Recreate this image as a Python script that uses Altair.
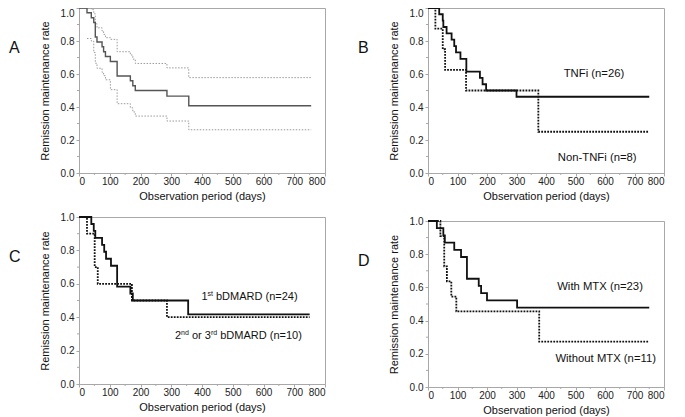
import altair as alt
import pandas as pd

# ---------------- data ----------------
# Panel A: overall Kaplan-Meier curve with 95% CI
A_main_t = [0, 26, 40, 48, 53, 58.5, 75, 80, 86, 102, 124, 167, 175, 183, 286, 357, 755]
A_main_s = [1, 0.971, 0.941, 0.912, 0.824, 0.794, 0.765, 0.735, 0.706, 0.676, 0.588, 0.559, 0.529, 0.5, 0.466, 0.408, 0.408]
A_up_t = [0, 26, 40, 48, 53, 58.5, 75, 80, 86, 102, 124, 167, 175, 183, 286, 357, 755]
A_up_s = [1, 1, 0.99, 0.965, 0.905, 0.88, 0.86, 0.84, 0.82, 0.81, 0.735, 0.715, 0.69, 0.664, 0.637, 0.578, 0.578]
A_lo_t = [26, 40, 48, 53, 58.5, 75, 80, 86, 102, 124, 167, 175, 183, 286, 357, 755]
A_lo_s = [0.815, 0.80, 0.73, 0.665, 0.635, 0.61, 0.59, 0.565, 0.505, 0.42, 0.395, 0.37, 0.345, 0.315, 0.262, 0.262]

# Panel B: TNFi vs non-TNFi
B_tnf_t = [0, 38, 50, 52, 63, 80, 89, 95, 110, 130, 176, 185, 197, 300, 750]
B_tnf_s = [1, 0.962, 0.923, 0.885, 0.846, 0.808, 0.769, 0.731, 0.692, 0.615, 0.577, 0.538, 0.5, 0.462, 0.462]
B_non_t = [0, 25, 50, 58, 129, 374, 750]
B_non_s = [1, 0.875, 0.75, 0.625, 0.5, 0.25, 0.25]

# Panel C: 1st vs 2nd/3rd bDMARD
C_1st_t = [0, 40, 48, 53, 75, 82, 88, 104, 124, 167, 175, 355, 750]
C_1st_s = [1, 0.958, 0.917, 0.875, 0.833, 0.792, 0.75, 0.708, 0.583, 0.542, 0.5, 0.417, 0.417]
C_2nd_t = [0, 26, 51, 61, 172, 286, 750]
C_2nd_s = [1, 0.9, 0.7, 0.6, 0.5, 0.4, 0.4]

# Panel D: with vs without MTX
D_mtx_t = [0, 30, 52, 57, 89, 112, 132, 172, 180, 200, 302, 750]
D_mtx_s = [1, 0.957, 0.913, 0.870, 0.826, 0.783, 0.652, 0.609, 0.565, 0.522, 0.478, 0.478]
D_nom_t = [0, 42, 55, 64, 79, 96, 377, 750]
D_nom_s = [1, 0.909, 0.727, 0.636, 0.545, 0.455, 0.273, 0.273]

# annotation labels
B_lab_text = ["TNFi (n=26)", "Non-TNFi (n=8)"]
B_lab_t = [460, 440]
B_lab_s = [0.6, 0.093]
D_lab_text = ["With MTX (n=23)", "Without MTX (n=11)"]
D_lab_t = [438, 432]
D_lab_s = [0.6, 0.167]
# panel C labels with superscripts: (text, size, dx, dy)
C_lab1_pieces = [("1", 11, 0, 0), ("st", 7, 6.1, -3), ("bDMARD (n=24)", 11, 14.6, 0)]
C_lab1_pos = (398, 0.52)
C_lab2_pieces = [("2", 11, 0, 0), ("nd", 7, 6.1, -3), ("or 3", 11, 17.0, 0),
                 ("rd", 7, 36.0, -3), ("bDMARD (n=10)", 11, 45.3, 0)]
C_lab2_pos = (312, 0.29)

x_ticks = list(range(0, 801, 100))
x_minor = list(range(50, 800, 100))
y_ticks = [0, 0.2, 0.4, 0.6, 0.8, 1.0]
y_minor = [0.1, 0.3, 0.5, 0.7, 0.9]

FONT = "Liberation Sans"
GREY = "#a8a8a8"


def panel(letter, series, width, height, top_row, labels=None, pieces=None):
    yaxis_kw = dict(values=y_ticks, format=".1f", title="Remission maintenance rate",
                    tickSize=3, labelPadding=2, titlePadding=10)
    if top_row:
        yaxis_kw["labelBaseline"] = {"condition": {"test": "datum.value >= 0.99", "value": "top"},
                                     "value": "middle"}
    X = alt.X("t:Q", scale=alt.Scale(domain=[0, 800], nice=False),
              axis=alt.Axis(values=x_ticks, format="d", title="Observation period (days)",
                            tickSize=3, labelPadding=0, titlePadding=4))
    Y = alt.Y("s:Q", scale=alt.Scale(domain=[0, 1], nice=False), axis=alt.Axis(**yaxis_kw))
    layers = []
    for t, s, color, sw, dash in series:
        df = pd.DataFrame({"t": t, "s": s})
        kw = dict(interpolate="step-after", color=color, strokeWidth=sw)
        if dash:
            kw["strokeDash"] = dash
        layers.append(alt.Chart(df).mark_line(**kw).encode(x=X, y=Y))
    # minor ticks
    layers.append(alt.Chart(pd.DataFrame({"t": x_minor})).mark_rule(color=GREY).encode(
        x=X, y=alt.value(height), y2=alt.value(height + 2)))
    layers.append(alt.Chart(pd.DataFrame({"s": y_minor})).mark_rule(color=GREY).encode(
        y=Y, x=alt.value(0), x2=alt.value(-2)))
    if labels:
        txt, tt, ss = labels
        df = pd.DataFrame({"t": tt, "s": ss, "lab": txt})
        layers.append(alt.Chart(df).mark_text(align="left", baseline="middle", fontSize=11.3,
                                              font=FONT, color="#111").encode(x=X, y=Y, text="lab:N"))
    if pieces:
        for plist, (pt, ps) in pieces:
            for txt, size, dx, dy in plist:
                df = pd.DataFrame({"t": [pt], "s": [ps], "lab": [txt]})
                layers.append(alt.Chart(df).mark_text(align="left", baseline="middle", fontSize=size,
                                                      dx=dx, dy=dy, font=FONT, color="#111").encode(
                    x=X, y=Y, text="lab:N"))
    layers.append(alt.Chart(pd.DataFrame({"lab": [letter]})).mark_text(
        align="left", baseline="middle", fontSize=16, font=FONT, color="#111").encode(
        x=alt.value(-70), y=alt.value(40), text="lab:N"))
    return alt.layer(*layers).properties(width=width, height=height)


pA = panel("A", [(A_up_t, A_up_s, "#9a9a9a", 1, [1.5, 1.5]),
                 (A_lo_t, A_lo_s, "#9a9a9a", 1, [1.5, 1.5]),
                 (A_main_t, A_main_s, "#555555", 1.4, None)], 246, 165, True)
pB = panel("B", [(B_non_t, B_non_s, "#111111", 1.8, [1.8, 1.2]),
                 (B_tnf_t, B_tnf_s, "#111111", 1.8, None)], 236, 165, True,
           labels=(B_lab_text, B_lab_t, B_lab_s))
pC = panel("C", [(C_2nd_t, C_2nd_s, "#111111", 1.8, [1.8, 1.2]),
                 (C_1st_t, C_1st_s, "#111111", 1.8, None)], 246, 167, False,
           pieces=[(C_lab1_pieces, C_lab1_pos), (C_lab2_pieces, C_lab2_pos)])
pD = panel("D", [(D_nom_t, D_nom_s, "#111111", 1.8, [1.8, 1.2]),
                 (D_mtx_t, D_mtx_s, "#111111", 1.8, None)], 236, 166, False,
           labels=(D_lab_text, D_lab_t, D_lab_s))

left = alt.vconcat(pA, pC, spacing=9)
right = alt.vconcat(pB, pD, spacing=13)
chart = alt.hconcat(left, right, spacing=31,
                    padding={"top": -5, "left": 0, "right": 0, "bottom": 0}).configure(
    font=FONT
).configure_view(stroke=GREY, strokeWidth=1).configure_axis(
    grid=False, domainColor=GREY, tickColor=GREY, labelColor="#222", titleColor="#111",
    labelFont=FONT, titleFont=FONT, labelFontSize=10, titleFontSize=11,
    titleFontWeight="normal"
)

chart.save("out.html", embed_options={"renderer": "svg", "actions": False})
